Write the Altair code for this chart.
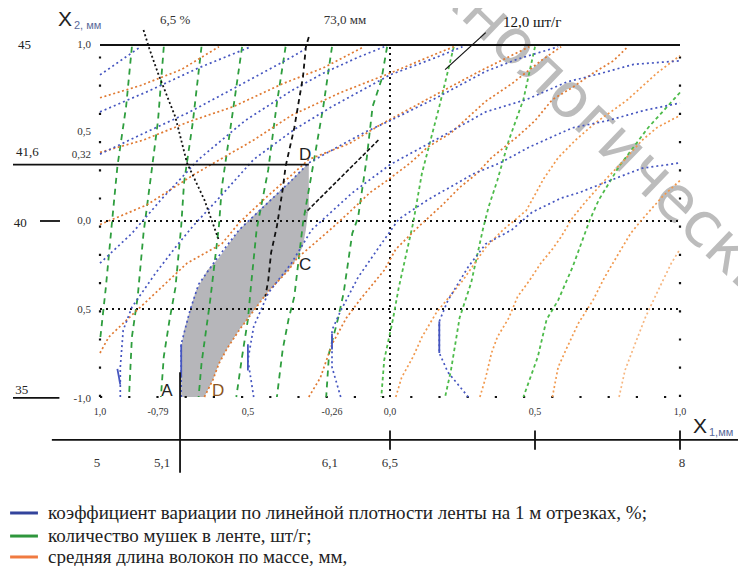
import altair as alt
import pandas as pd

# ---------- contour lines in coded factors (X1 -> x, X2 -> y) ----------
# blue: coefficient of variation of sliver linear density
B0 = [(-1.0, 0.83), (-0.86, 0.99)]
B1 = [(-1.0, 0.62), (-0.83, 0.74), (-0.66, 0.87), (-0.48, 0.99)]
B2 = [(-1.0, 0.38), (-0.86, 0.49), (-0.69, 0.62), (-0.52, 0.77), (-0.34, 0.93), (-0.29, 0.98)]
B3 = [(-1.0, -0.24), (-0.89, -0.07), (-0.79, 0.12), (-0.66, 0.35), (-0.50, 0.57), (-0.34, 0.74),
      (-0.23, 0.84), (-0.11, 0.93), (-0.02, 0.99)]
B4 = [(-0.93, -1.0), (-0.93, -0.83), (-0.92, -0.62), (-0.89, -0.49), (-0.81, -0.30), (-0.74, -0.15),
      (-0.68, -0.03), (-0.59, 0.13), (-0.47, 0.35), (-0.33, 0.52), (-0.20, 0.65), (0.0, 0.83),
      (0.16, 0.93), (0.25, 0.99)]
B5 = [(-0.72, -1.0), (-0.72, -0.89), (-0.72, -0.70), (-0.69, -0.51), (-0.66, -0.36), (-0.60, -0.22),
      (-0.52, -0.05), (-0.43, 0.09), (-0.34, 0.23), (-0.28, 0.33), (-0.17, 0.43), (-0.08, 0.51),
      (0.0, 0.57), (0.16, 0.70), (0.33, 0.85), (0.44, 0.92), (0.58, 0.99)]
B6 = [(-0.47, -1.0), (-0.49, -0.79), (-0.47, -0.60), (-0.42, -0.41), (-0.34, -0.24), (-0.27, -0.05),
      (-0.13, 0.16), (0.0, 0.32), (0.20, 0.50), (0.33, 0.62), (0.47, 0.69), (0.61, 0.79), (0.73, 0.84),
      (0.84, 0.89), (1.0, 0.91)]
B7 = [(-0.17, -1.0), (-0.20, -0.83), (-0.20, -0.62), (-0.17, -0.51), (-0.11, -0.32), (-0.03, -0.13),
      (0.03, 0.01), (0.13, 0.12), (0.29, 0.27), (0.38, 0.33), (0.48, 0.42), (0.63, 0.53), (0.75, 0.57),
      (0.88, 0.63), (1.0, 0.67)]
B8 = [(0.27, -1.0), (0.20, -0.86), (0.17, -0.75), (0.17, -0.57), (0.20, -0.45), (0.27, -0.26),
      (0.33, -0.13), (0.42, -0.05), (0.49, 0.05), (0.59, 0.13), (0.65, 0.16), (0.79, 0.25), (0.87, 0.30),
      (1.0, 0.33)]
# solid pieces of the blue lines near the bottom
BS1 = [(-0.94, -0.84), (-0.93, -0.93)]
BS2 = [(-0.72, -0.70), (-0.72, -0.89)]
BS3 = [(-0.49, -0.70), (-0.49, -0.85)]
BS4 = [(-0.20, -0.64), (-0.20, -0.73)]
BS5 = [(0.17, -0.57), (0.17, -0.75)]

# green: number of neps in the sliver, pcs/g
G1 = [(-0.89, 0.99), (-0.91, 0.65), (-0.94, 0.31), (-0.96, -0.03), (-0.98, -0.38), (-1.0, -0.68)]
G2 = [(-0.78, 0.99), (-0.80, 0.57), (-0.82, 0.31), (-0.85, -0.07), (-0.87, -0.43), (-0.89, -0.66), (-0.90, -1.0)]
G3 = [(-0.65, 0.99), (-0.68, 0.56), (-0.71, 0.22), (-0.72, -0.03), (-0.74, -0.38), (-0.76, -0.56),
      (-0.78, -0.77), (-0.79, -1.0)]
G4 = [(-0.51, 0.99), (-0.55, 0.53), (-0.58, 0.19), (-0.59, -0.03), (-0.62, -0.45), (-0.65, -0.81), (-0.66, -1.0)]
G5 = [(-0.36, 0.99), (-0.39, 0.67), (-0.42, 0.29), (-0.46, -0.05), (-0.48, -0.38), (-0.49, -0.56),
      (-0.51, -0.77), (-0.53, -1.0)]
G6 = [(-0.20, 0.99), (-0.23, 0.65), (-0.27, 0.27), (-0.30, -0.01), (-0.33, -0.43), (-0.35, -0.56),
      (-0.37, -0.73), (-0.39, -1.0)]
G7 = [(-0.01, 0.99), (-0.03, 0.80), (-0.06, 0.65), (-0.08, 0.36), (-0.11, 0.02), (-0.13, -0.07),
      (-0.16, -0.41), (-0.18, -0.56), (-0.21, -0.75), (-0.22, -1.0)]
G8 = [(0.22, 0.99), (0.17, 0.65), (0.11, 0.27), (0.08, -0.01), (0.03, -0.38), (0.01, -0.56), (-0.02, -0.79), (-0.03, -1.0)]
G9 = [(0.50, 0.99), (0.46, 0.69), (0.41, 0.46), (0.37, 0.23), (0.34, 0.08), (0.32, -0.05), (0.28, -0.35),
      (0.24, -0.55), (0.21, -0.85), (0.19, -1.0)]
G10 = [(1.0, 0.73), (0.89, 0.53), (0.79, 0.31), (0.72, 0.12), (0.69, 0.01), (0.63, -0.26), (0.58, -0.45),
       (0.54, -0.56), (0.51, -0.77), (0.46, -1.0)]

# orange: mean fibre length by mass, mm
O0 = [(-1.0, 0.70), (-0.86, 0.77), (-0.72, 0.86), (-0.59, 0.99)]
O1 = [(-1.0, 0.39), (-0.85, 0.46), (-0.70, 0.56), (-0.54, 0.65), (-0.37, 0.78), (-0.23, 0.87), (-0.09, 0.99)]
O2 = [(-1.0, -0.02), (-0.84, 0.09), (-0.67, 0.27), (-0.47, 0.46), (-0.34, 0.60), (-0.17, 0.73), (0.0, 0.84),
      (0.16, 0.95), (0.22, 0.99)]
O3 = [(-1.0, -0.75), (-0.97, -0.66), (-0.90, -0.55), (-0.79, -0.38), (-0.70, -0.24), (-0.58, -0.13),
      (-0.52, -0.01), (-0.43, 0.13), (-0.34, 0.26), (-0.28, 0.35), (-0.14, 0.44), (-0.03, 0.55),
      (0.16, 0.72), (0.32, 0.86), (0.48, 0.99)]
O4 = [(-0.64, -1.0), (-0.61, -0.90), (-0.59, -0.81), (-0.56, -0.72), (-0.52, -0.62), (-0.47, -0.51),
      (-0.42, -0.40), (-0.35, -0.28), (-0.32, -0.21), (-0.27, -0.14), (-0.20, -0.04), (-0.14, 0.05),
      (-0.07, 0.16), (-0.01, 0.23), (0.07, 0.33), (0.13, 0.42), (0.21, 0.50), (0.33, 0.68), (0.42, 0.78),
      (0.52, 0.91), (0.59, 0.99)]
O5 = [(-0.28, -1.0), (-0.24, -0.89), (-0.20, -0.70), (-0.15, -0.55), (-0.10, -0.44), (-0.02, -0.28),
      (0.02, -0.16), (0.10, -0.03), (0.18, 0.09), (0.24, 0.19), (0.30, 0.27), (0.35, 0.36), (0.44, 0.48),
      (0.50, 0.57), (0.56, 0.69), (0.63, 0.76), (0.70, 0.84), (0.77, 0.91), (0.82, 0.99)]
O6 = [(0.02, -1.0), (0.04, -0.89), (0.08, -0.77), (0.11, -0.66), (0.16, -0.52), (0.25, -0.34), (0.33, -0.15),
      (0.39, -0.05), (0.47, 0.06), (0.53, 0.24), (0.58, 0.36), (0.64, 0.46), (0.71, 0.56), (0.77, 0.63),
      (0.82, 0.69), (0.92, 0.84), (1.0, 0.94)]
O7 = [(0.31, -1.0), (0.33, -0.89), (0.35, -0.75), (0.37, -0.66), (0.41, -0.55), (0.44, -0.43), (0.48, -0.34),
      (0.52, -0.24), (0.56, -0.16), (0.59, -0.09), (0.63, 0.02), (0.68, 0.12), (0.74, 0.23), (0.81, 0.35),
      (0.87, 0.46), (0.92, 0.53), (1.0, 0.60)]
O8 = [(0.56, -1.0), (0.58, -0.83), (0.61, -0.72), (0.65, -0.58), (0.70, -0.45), (0.74, -0.32), (0.79, -0.18),
      (0.83, -0.07), (0.87, 0.01), (0.94, 0.14), (1.0, 0.23)]
O9 = [(0.79, -1.0), (0.81, -0.85), (0.84, -0.72), (0.88, -0.55), (0.92, -0.41), (0.97, -0.24), (1.0, -0.16)]

# optimum region A-D-C-D: X2 level, left (X1) and right (X1) borders
REG_X2 = [-1.0, -0.90, -0.81, -0.72, -0.62, -0.51, -0.40, -0.28, -0.21, -0.14, -0.05, 0.08, 0.20, 0.33]
REG_L = [-0.72, -0.72, -0.72, -0.72, -0.71, -0.69, -0.67, -0.63, -0.59, -0.56, -0.52, -0.44, -0.36, -0.28]
REG_R = [-0.64, -0.61, -0.59, -0.56, -0.52, -0.47, -0.42, -0.35, -0.32, -0.30, -0.29, -0.28, -0.28, -0.28]

# black leader lines
K_PCT = [(-0.85, 1.085), (-0.83, 0.98), (-0.80, 0.84), (-0.74, 0.59), (-0.70, 0.33), (-0.64, 0.12), (-0.59, -0.11)]
K_MM = [(-0.28, 1.045), (-0.29, 0.99), (-0.30, 0.82), (-0.33, 0.53), (-0.36, 0.31), (-0.37, 0.18),
        (-0.39, -0.03), (-0.41, -0.18), (-0.42, -0.34), (-0.43, -0.43)]
K_PCS = [(0.33, 1.07), (0.19, 0.86)]
K_DASH = [(-0.04, 0.46), (-0.29, 0.05)]

# frame / axes
TOP = [(-1.0, 1.0), (1.0, 1.0)]
LINE_032 = [(-1.30, 0.32), (-0.28, 0.32)]
AXIS_X = [(-1.166, -1.244), (1.20, -1.244)]
VLINE = [(-0.724, -0.86), (-0.724, -1.43)]
DASH40 = [(-1.207, 0.0), (-1.138, 0.0)]
UNDER35 = [(-1.30, -1.005), (-1.14, -1.005)]
TICKS_X = [0.0, 0.5, 1.0]
GRID_Y0 = [(-1.0, 0.0), (1.0, 0.0)]
GRID_YM = [(-1.0, -0.5), (1.0, -0.5)]
GRID_X0 = [(0.0, -1.0), (0.0, 1.0)]
EDGE_L = [(-1.0, -1.0), (-1.0, 1.0)]
EDGE_R = [(1.0, -1.0), (1.0, 1.0)]
EDGE_B = [(-1.0, -1.0), (1.0, -1.0)]

# tick labels
LEFT_NAT = ["45", "41,6", "40", "35"]
LEFT_NAT_Y = [1.0, 0.39, -0.01, -0.96]
LEFT_NAT_X = [-1.26, -1.25, -1.275, -1.27]
LEFT_COD = ["1,0", "0,5", "0,32", "0,0", "0,5", "-1,0"]
LEFT_COD_Y = [1.0, 0.506, 0.375, 0.0, -0.506, -1.01]
BOT_COD = ["1,0", "-0,79", "0,5", "-0,26", "0,0", "0,5", "1,0"]
BOT_COD_X = [-1.0, -0.80, -0.49, -0.20, 0.0, 0.5, 1.0]
BOT_NAT = ["5", "5,1", "6,1", "6,5", "8"]
BOT_NAT_X = [-1.01, -0.786, -0.207, 0.0, 1.007]

LEGEND = ["коэффициент вариации по линейной плотности ленты на 1 м отрезках, %;",
          "количество мушек в ленте, шт/г;",
          "средняя длина волокон по массе, мм,"]
LEGEND_COL = ["#33449c", "#2e963c", "#f07a40"]
LEGEND_Y = [-1.659, -1.790, -1.909]

# ---------- helpers ----------
XS = alt.Scale(domain=[-1.31724, 1.2], nice=False, zero=False)
YS = alt.Scale(domain=[-1.96023, 1.21023], nice=False, zero=False)


def lines_df(named):
    rows = []
    for name, pts in named:
        for k, (a, b) in enumerate(pts):
            rows.append({"line": name, "k": k, "x1": a, "x2": b})
    return pd.DataFrame(rows)


def line_layer(named, color, width, dash=None, opacity=1.0):
    kw = dict(color=color, strokeWidth=width, opacity=opacity, strokeCap="butt")
    if dash:
        kw["strokeDash"] = dash
    return alt.Chart(lines_df(named)).mark_line(**kw).encode(
        x=alt.X("x1:Q", scale=XS, axis=None),
        y=alt.Y("x2:Q", scale=YS, axis=None),
        detail="line:N",
        order="k:Q",
    )


def text_layer(texts, xs, ys, size, color="#222", align="center", font="Liberation Serif", weight="normal"):
    df = pd.DataFrame({"t": texts, "x1": xs, "x2": ys})
    return alt.Chart(df).mark_text(fontSize=size, color=color, align=align, baseline="middle",
                                   font=font, fontWeight=weight).encode(
        x=alt.X("x1:Q", scale=XS, axis=None),
        y=alt.Y("x2:Q", scale=YS, axis=None),
        text="t:N",
    )


layers = []

# watermark of the source page
wm = alt.Chart(pd.DataFrame({"t": ["технологические"], "x1": [0.007], "x2": [1.676]})).mark_text(
    angle=44, fontSize=62, font="DejaVu Sans", color="#909090", opacity=0.6,
    align="left", baseline="middle", clip=True).encode(
    x=alt.X("x1:Q", scale=XS, axis=None), y=alt.Y("x2:Q", scale=YS, axis=None), text="t:N")
layers.append(wm)

# shaded region
reg = pd.DataFrame({"x2": REG_X2, "xl": REG_L, "xr": REG_R})
layers.append(alt.Chart(reg).mark_area(orient="horizontal", color="#b6b6ba").encode(
    y=alt.Y("x2:Q", scale=YS, axis=None),
    x=alt.X("xl:Q", scale=XS, axis=None),
    x2="xr:Q",
))

# grids
layers.append(line_layer([("gy0", GRID_Y0), ("gym", GRID_YM), ("gx0", GRID_X0)], "#111", 2, [2, 4]))
layers.append(line_layer([("el", EDGE_L), ("er", EDGE_R), ("eb", EDGE_B)], "#111", 2.2, [2.2, 26]))

# green
layers.append(line_layer([("g1", G1), ("g2", G2), ("g3", G3), ("g4", G4), ("g5", G5), ("g6", G6), ("g7", G7)],
                         "#2e9e3e", 1.8, [6, 5]))
layers.append(line_layer([("g8", G8), ("g9", G9), ("g10", G10)], "#4dbb4a", 1.8, [3.5, 3]))

# orange
layers.append(line_layer([("o0", O0), ("o1", O1), ("o2", O2), ("o3", O3), ("o4", O4), ("o5", O5)],
                         "#e07a32", 1.7, [2, 2.6]))
layers.append(line_layer([("o6", O6), ("o7", O7), ("o8", O8)], "#f1994e", 1.7, [2, 2.6]))
layers.append(line_layer([("o9", O9)], "#f6b680", 1.7, [2, 2.6]))

# blue
layers.append(line_layer([("b0", B0), ("b1", B1), ("b2", B2), ("b3", B3), ("b4", B4), ("b5", B5),
                          ("b6", B6), ("b7", B7), ("b8", B8)], "#4656c0", 1.7, [2, 3]))
layers.append(line_layer([("s1", BS1), ("s2", BS2), ("s3", BS3), ("s4", BS4), ("s5", BS5)], "#4656c0", 1.8))

# black leaders
layers.append(line_layer([("kp", K_PCT)], "#111", 1.8, [2, 2.5]))
layers.append(line_layer([("km", K_MM)], "#111", 1.8, [5, 4]))
layers.append(line_layer([("kd", K_DASH)], "#111", 1.6, [4, 2]))
layers.append(line_layer([("ks", K_PCS)], "#111", 1.2))

# frame lines
ticks = [("t%d" % i, [(v, -1.19), (v, -1.30)]) for i, v in enumerate(TICKS_X)]
layers.append(line_layer([("top", TOP), ("l032", LINE_032), ("ax", AXIS_X), ("vl", VLINE),
                          ("d40", DASH40), ("u35", UNDER35)] + ticks, "#111", 1.8))

# labels
layers.append(text_layer(LEFT_NAT, LEFT_NAT_X, LEFT_NAT_Y, 13, "#222"))
layers.append(text_layer(LEFT_COD, [-1.031] * len(LEFT_COD), LEFT_COD_Y, 11, "#333", align="right"))
layers.append(text_layer(BOT_COD, BOT_COD_X, [-1.085] * len(BOT_COD), 10, "#333"))
layers.append(text_layer(BOT_NAT, BOT_NAT_X, [-1.375] * len(BOT_NAT), 13, "#333"))
layers.append(text_layer(["6,5 %", "73,0 мм"], [-0.741, -0.155], [1.142, 1.142], 13, "#333"))
layers.append(text_layer(["12,0 шт/г"], [0.49], [1.13], 15, "#111"))
layers.append(text_layer(["D", "C", "A"], [-0.293, -0.293, -0.769], [0.375, -0.25, -0.966], 17, "#222",
                         font="Liberation Sans"))
layers.append(text_layer(["D"], [-0.593], [-0.966], 17, "#8a5320", font="Liberation Sans"))
layers.append(text_layer(["X", "X"], [-1.121, 1.069], [1.142, -1.17], 21, "#222", font="Liberation Sans"))
layers.append(text_layer(["2, мм"], [-1.090], [1.108], 11, "#5a6a9a", align="left", font="Liberation Sans"))
layers.append(text_layer(["1,мм"], [1.10], [-1.205], 11, "#5a6a9a", align="left", font="Liberation Sans"))

# legend
leg_lines = [("leg%d" % i, [(-1.31, y), (-1.214, y)]) for i, y in enumerate(LEGEND_Y)]
for i, (name, pts) in enumerate(leg_lines):
    layers.append(line_layer([(name, pts)], LEGEND_COL[i], 3))
layers.append(text_layer(LEGEND, [-1.179] * 3, LEGEND_Y, 19, "#222", align="left"))

chart = alt.layer(*layers).properties(
    width=730, height=558, padding=0,
    autosize=alt.AutoSizeParams(type="none"),
).configure_view(stroke=None)

chart.save("out.html", embed_options={"renderer": "svg", "actions": False})
